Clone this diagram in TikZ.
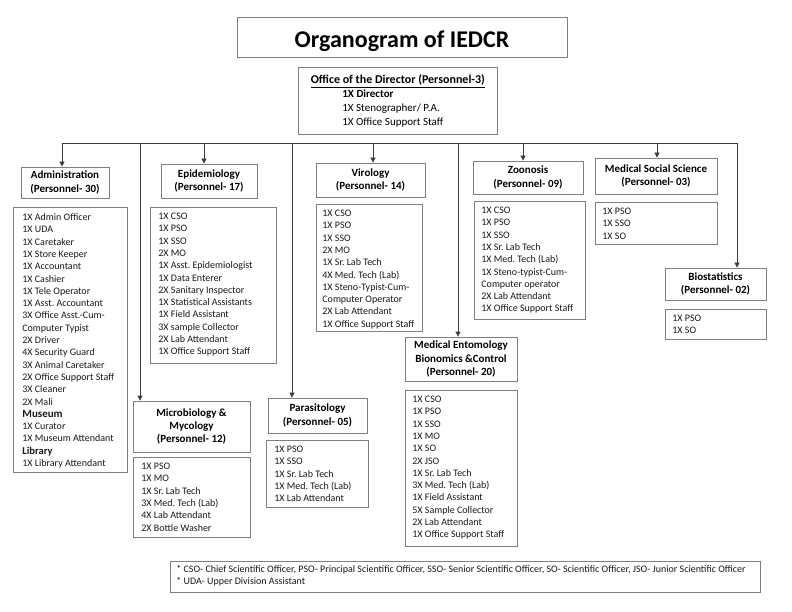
\documentclass[tikz,border=0pt]{standalone}
\usepackage{fontspec}
\setmainfont{Carlito}
\usetikzlibrary{arrows.meta}
\frenchspacing
\definecolor{bordergray}{RGB}{128,128,128}
\definecolor{linegray}{RGB}{60,60,60}
\definecolor{txt}{RGB}{25,25,25}
% #1 width, #2 height, #3 top gap, #4 left indent, #5 lines
\newcommand\lstbox[5]{\parbox[c][#2pt][t]{#1pt}{\vspace*{#3pt}\raggedright\leftskip=#4pt\relax\fontsize{10}{12.3}\selectfont\color{txt}\strut#5\par}}
\newcommand\musfont{\fontsize{11}{12.3}\selectfont\bfseries}
\newcommand\libfont{\fontsize{10.5}{12.3}\selectfont\bfseries}
\tikzset{
  hbox/.style={draw=bordergray, line width=0.8pt, align=center, inner sep=0pt,
    font=\fontsize{11}{13.4}\selectfont\bfseries},
  lbox/.style={draw=bordergray, line width=0.8pt, inner sep=0pt, anchor=north west},
  conn/.style={draw=linegray, line width=0.8pt},
  arr/.style={-{Triangle[length=5pt,width=5pt]}}
}
\begin{document}
\begin{tikzpicture}[x=1pt,y=-1pt]
\useasboundingbox[fill=white] (0,0) rectangle (792,612);

% title
\node[draw=bordergray, line width=0.8pt, anchor=base, minimum width=330pt, inner xsep=0pt, inner ysep=0pt,
      text height=31pt, text depth=9pt, font=\fontsize{24}{28}\selectfont\bfseries] (title) at (402,48) {Organogram of IEDCR};

% director
\node[lbox] (dir) at (298,67) {\parbox[c][67pt][t]{199pt}{\vspace*{6.5pt}\fontsize{12}{14}\selectfont\centering\strut\textbf{\underline{Office of the Director (Personnel-3)}}\par
  \fontsize{11}{13.8}\selectfont\raggedright\leftskip=44pt\relax\textbf{1X Director}\\1X Stenographer/ P.A.\\1X Office Support Staff\par}};

% headers
\node[hbox, minimum width=88pt, minimum height=31pt] (admh) at (65,182.5) {Administration\\(Personnel- 30)};
\node[hbox, minimum width=96pt, minimum height=34pt] (epih) at (209,181) {Epidemiology\\(Personnel- 17)};
\node[hbox, minimum width=109pt, minimum height=34pt] (virh) at (370.5,180) {Virology\\(Personnel- 14)};
\node[hbox, minimum width=110pt, minimum height=33pt] (zooh) at (528,177.5) {Zoonosis\\(Personnel- 09)};
\node[hbox, minimum width=122pt, minimum height=36pt] (mssh) at (656,176) {Medical Social Science\\(Personnel- 03)};
\node[hbox, minimum width=101pt, minimum height=32pt] (bioh) at (715.5,284) {Biostatistics\\(Personnel- 02)};
\node[hbox, minimum width=117pt, minimum height=51pt] (mich) at (191.5,426.5) {Microbiology \&\\Mycology\\(Personnel- 12)};
\node[hbox, minimum width=99pt, minimum height=35pt] (parh) at (317.5,415.5) {Parasitology\\(Personnel- 05)};
\node[hbox, minimum width=112pt, minimum height=44pt] (meh) at (461,359) {Medical Entomology\\Bionomics \&Control\\(Personnel- 20)};

% lists
\node[lbox] (adml) at (13,207) {\lstbox{114}{265}{4.5}{9}{1X Admin Officer\\1X UDA\\1X Caretaker\\1X Store Keeper\\1X Accountant\\1X Cashier\\1X Tele Operator\\1X Asst. Accountant\\3X Office Asst.-Cum-\\Computer Typist\\2X Driver\\4X Security Guard\\3X Animal Caretaker\\2X Office Support Staff\\3X Cleaner\\2X Mali\\{\musfont Museum}\\1X Curator\\1X Museum Attendant\\{\libfont Library}\\1X Library Attendant}};
\node[lbox] (epil) at (150,207) {\lstbox{126}{156}{3.5}{8}{1X CSO\\1X PSO\\1X SSO\\2X MO\\1X Asst. Epidemiologist\\1X Data Enterer\\2X Sanitary Inspector\\1X Statistical Assistants\\1X Field Assistant\\3X sample Collector\\2X Lab Attendant\\1X Office Support Staff}};
\node[lbox] (virl) at (316,204) {\lstbox{106}{127}{3.5}{6}{1X CSO\\1X PSO\\1X SSO\\2X MO\\1X Sr. Lab Tech\\4X Med. Tech (Lab)\\1X Steno-Typist-Cum-\\Computer Operator\\2X Lab Attendant\\1X Office Support Staff}};
\node[lbox] (zool) at (474,201) {\lstbox{111}{118}{3.5}{7}{1X CSO\\1X PSO\\1X SSO\\1X Sr. Lab Tech\\1X Med. Tech (Lab)\\1X Steno-typist-Cum-\\Computer operator\\2X Lab Attendant\\1X Office Support Staff}};
\node[lbox] (mssl) at (595,202) {\lstbox{122}{42}{3.5}{7}{1X PSO\\1X SSO\\1X SO}};
\node[lbox] (biol) at (665,309) {\lstbox{101}{30}{3}{7}{1X PSO\\1X SO}};
\node[lbox] (micl) at (133,457) {\lstbox{117}{80}{3.5}{8}{1X PSO\\1X MO\\1X Sr. Lab Tech\\3X Med. Tech (Lab)\\4X Lab Attendant\\2X Bottle Washer}};
\node[lbox] (parl) at (266,440) {\lstbox{102}{67}{3.5}{8}{1X PSO\\1X SSO\\1X Sr. Lab Tech\\1X Med. Tech (Lab)\\1X Lab Attendant}};
\node[lbox] (mel) at (405,390) {\lstbox{112}{156}{3.5}{7}{1X CSO\\1X PSO\\1X SSO\\1X MO\\1X SO\\2X JSO\\1X Sr. Lab Tech\\3X Med. Tech (Lab)\\1X Field Assistant\\5X Sample Collector\\2X Lab Attendant\\1X Office Support Staff}};

% footnote
\node[lbox] (note) at (170,561) {\parbox[c][31pt][t]{590pt}{\vspace*{2.5pt}\raggedright\leftskip=6pt\relax\fontsize{10}{12}\selectfont\color{txt}\strut{}* CSO- Chief Scientific Officer, PSO- Principal Scientific Officer, SSO- Senior Scientific Officer, SO- Scientific Officer, JSO- Junior Scientific Officer\\\relax{}* UDA- Upper Division Assistant\par}};

% bus
\coordinate (bA) at (62,143);
\coordinate (bM) at (140,143);
\coordinate (bE) at (204,143);
\coordinate (bP) at (292,143);
\coordinate (bV) at (373,143);
\coordinate (bN) at (458,143);
\coordinate (bZ) at (523,143);
\coordinate (bS) at (657,143);
\coordinate (bB) at (737,143);
\draw[conn] (bA) -- (bB);
\draw[conn,arr] (bA) -- (bA |- admh.north);
\draw[conn,arr] (bE) -- (bE |- epih.north);
\draw[conn,arr] (bV) -- (bV |- virh.north);
\draw[conn,arr] (bZ) -- (bZ |- zooh.north);
\draw[conn,arr] (bS) -- (bS |- mssh.north);
\draw[conn,arr] (bM) -- (bM |- mich.north);
\draw[conn,arr] (bP) -- (bP |- parh.north);
\draw[conn,arr] (bN) -- (bN |- meh.north);
\draw[conn,arr] (bB) -- (bB |- bioh.north);
\end{tikzpicture}
\end{document}
